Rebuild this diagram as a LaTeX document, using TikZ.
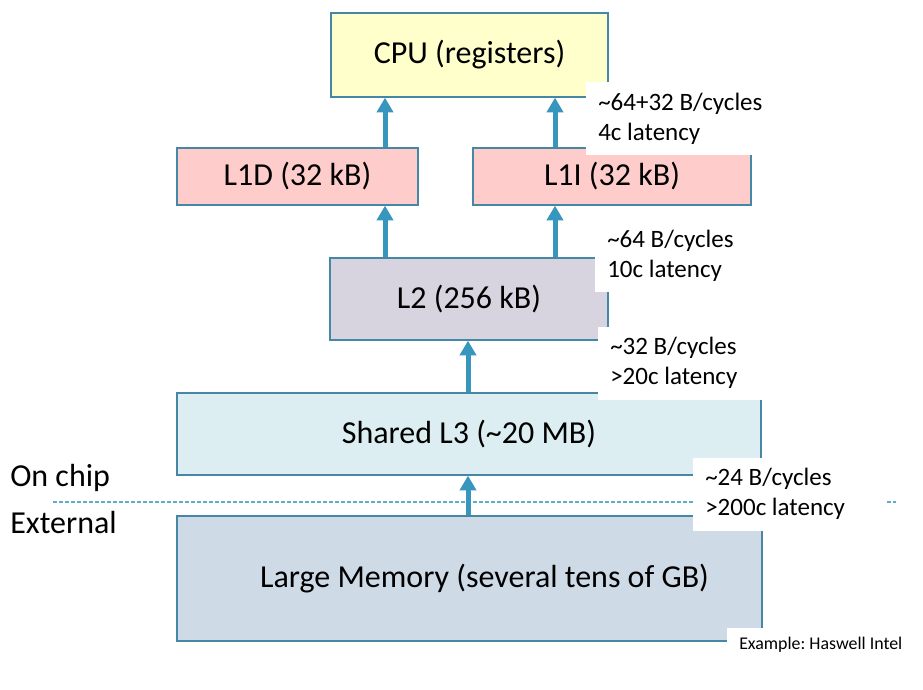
\documentclass[tikz,border=0pt]{standalone}
\usepackage{fontspec}
\setmainfont{Carlito}
\usetikzlibrary{arrows.meta}
\definecolor{edge}{RGB}{70,135,165}
\definecolor{flow}{RGB}{55,150,190}
\definecolor{dashc}{RGB}{95,170,205}
\definecolor{cpuc}{RGB}{255,255,204}
\definecolor{lonec}{RGB}{255,204,204}
\definecolor{ltwoc}{RGB}{215,211,223}
\definecolor{lthreec}{RGB}{220,238,242}
\definecolor{memc}{RGB}{206,218,230}
\begin{document}
\frenchspacing
\begin{tikzpicture}[x=0.75pt,y=-0.75pt,
    tier/.style={draw=edge,line width=1pt,font=\fontsize{24}{28}\selectfont},
    link/.style={draw=flow,line width=3.75pt,-{Triangle[length=11pt,width=12pt]}},
    rate/.style={fill=white,anchor=west,align=flush left,text width=127.5pt,inner xsep=9pt,
      minimum height=54.75pt,font=\fontsize{18.75}{22.5}\selectfont},
    chipline/.style={draw=dashc,line width=1pt,dash pattern=on 3pt off 1.5pt}]
  \useasboundingbox (0,0) rectangle (923,689);
  \node [tier,fill=cpuc,minimum width=207.75pt,minimum height=63pt] (cpu) at (469.5,55) {CPU (registers)};
  \node [tier,fill=lonec,minimum width=180.75pt,minimum height=42.75pt] (lod) at (297.5,176.5) {L1D (32 kB)};
  \node [tier,fill=lonec,minimum width=208.5pt,minimum height=42.75pt] (loi) at (612,176.5) {L1I (32 kB)};
  \node [tier,fill=ltwoc,minimum width=208.5pt,minimum height=61.5pt] (ltwo) at (469,299) {L2 (256 kB)};
  \node [tier,fill=lthreec,minimum width=438pt,minimum height=61.5pt] (lthree) at (469,434) {Shared L3 (\textasciitilde 20 MB)};
  \node [tier,fill=memc,minimum width=438.75pt,minimum height=93.75pt] (mem) at (469.5,578.5) {\hspace*{22.5pt}Large Memory (several tens of GB)};
  % on chip / external
  \coordinate (cw) at (53,502);
  \coordinate (ce) at (896,502);
  \draw [chipline] (cw) -- (ce);
  \node [anchor=west,inner sep=0pt,font=\fontsize{24}{28}\selectfont] (on) at (10,478) {On chip};
  \node [anchor=west,inner sep=0pt,font=\fontsize{24}{28}\selectfont] (ext) at (10,522) {External};
  % arrow columns
  \coordinate (c1) at (385,0);
  \coordinate (c2) at (555,0);
  \coordinate (c3) at (468,0);
  \draw [link] (lod.north -| c1) -- (cpu.south -| c1);
  \draw [link] (loi.north -| c2) -- (cpu.south -| c2);
  \draw [link] (ltwo.north -| c1) -- (lod.south -| c1);
  \draw [link] (ltwo.north -| c2) -- (loi.south -| c2);
  \draw [link] (lthree.north -| c3) -- (ltwo.south -| c3);
  \draw [link] (mem.north -| c3) -- (lthree.south -| c3);
  \node [rate] (r1) at (586,118.5) {\textasciitilde 64+32 B/cycles\\4c latency};
  \node [rate] (r2) at (595,255.5) {\textasciitilde 64 B/cycles\\10c latency};
  \node [rate] (r3) at (598,363) {\textasciitilde 32 B/cycles\\>20c latency};
  \node [rate] (r4) at (693,494) {\textasciitilde 24 B/cycles\\>200c latency};
  \node [fill=white,anchor=west,inner xsep=9pt,minimum height=25.5pt,
    font=\fontsize{13.4}{16}\selectfont] (note) at (727,645) {Example: Haswell Intel};
\end{tikzpicture}
\end{document}
